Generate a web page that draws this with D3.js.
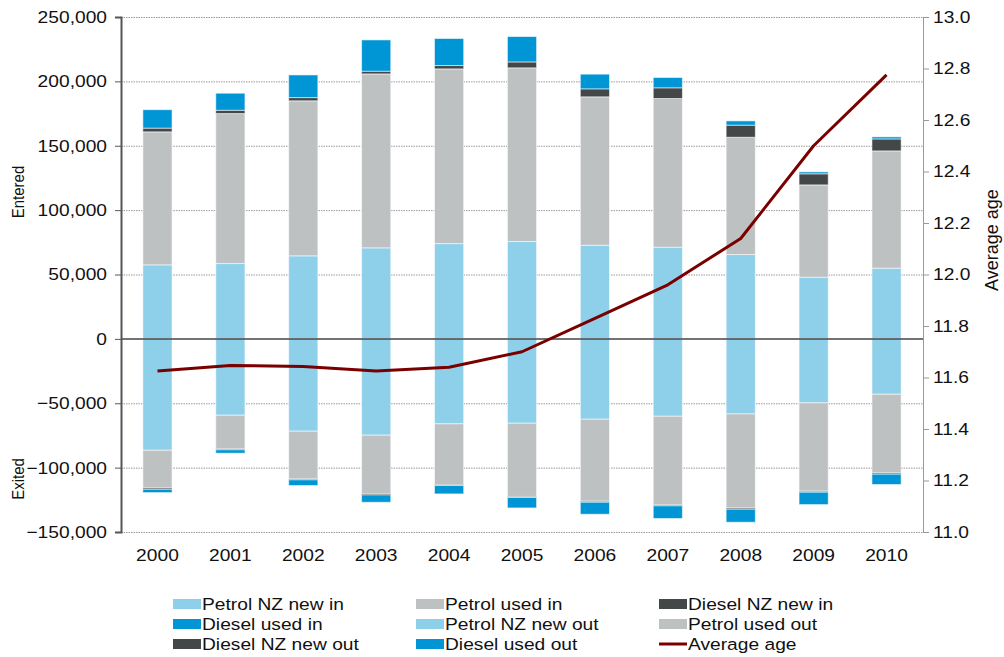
<!DOCTYPE html>
<html>
<head>
<meta charset="utf-8">
<script src="https://cdn.jsdelivr.net/npm/d3@7"></script>
<style>
  html, body { margin: 0; padding: 0; background: #fff; }
  svg { display: block; font-family: "Liberation Sans", Arial, sans-serif; }
</style>
</head>
<body>
<svg id="chart" width="1004" height="657"></svg>
<script>
// Vehicles entering and leaving the fleet, by fuel type and origin, with average fleet age
const years = ["2000", "2001", "2002", "2003", "2004", "2005", "2006", "2007", "2008", "2009", "2010"];

const petrolNzNewIn  = [57500, 58500, 64500, 70700, 74000, 75600, 72700, 71200, 65500, 47900, 54900];
const petrolUsedIn   = [103300, 116500, 120400, 135100, 135700, 134900, 115300, 115500, 91100, 71700, 91100];
const dieselNzNewIn  = [2900, 2600, 2500, 2100, 2600, 4600, 6200, 8300, 9400, 8600, 9300];
const dieselUsedIn   = [14300, 13200, 17600, 24300, 21000, 19700, 11400, 8000, 3300, 1500, 1600];

const petrolNzNewOut = [-86500, -59300, -71700, -74800, -66000, -65500, -62400, -60100, -58300, -49700, -43000];
const petrolUsedOut  = [-29200, -26100, -37000, -45300, -47100, -56900, -63700, -68800, -73000, -68600, -61100];
const dieselNzNewOut = [-1100, -800, -800, -1100, -800, -800, -800, -800, -1000, -800, -1000];
const dieselUsedOut  = [-2600, -2600, -4400, -5700, -6500, -8100, -9300, -9800, -10100, -9600, -8000];

const averageAge = [11.625, 11.647, 11.643, 11.625, 11.64, 11.70, 11.83, 11.96, 12.14, 12.50, 12.775];

const leftTicks  = [250000, 200000, 150000, 100000, 50000, 0, -50000, -100000, -150000];
const rightTicks = [13.0, 12.8, 12.6, 12.4, 12.2, 12.0, 11.8, 11.6, 11.4, 11.2, 11.0];

const seriesNames = ["Petrol NZ new in", "Petrol used in", "Diesel NZ new in", "Diesel used in",
                     "Petrol NZ new out", "Petrol used out", "Diesel NZ new out", "Diesel used out"];
const seriesValues = [petrolNzNewIn, petrolUsedIn, dieselNzNewIn, dieselUsedIn,
                      petrolNzNewOut, petrolUsedOut, dieselNzNewOut, dieselUsedOut];

const colorFor = {
  "Petrol NZ new in": "#8ecfea", "Petrol used in": "#bec1c2",
  "Diesel NZ new in": "#434748", "Diesel used in": "#0095d5",
  "Petrol NZ new out": "#8ecfea", "Petrol used out": "#bec1c2",
  "Diesel NZ new out": "#434748", "Diesel used out": "#0095d5"
};
const lineColor = "#7a0000";

// Text in this chart is drawn slightly wide
const SX = 1.13;
const FONT = 17;

const svg = d3.select("#chart");
const plot = { left: 121, right: 923, top: 17, bottom: 532 };

const x = d3.scaleBand().domain(years).range([plot.left, plot.right]).paddingInner(0.6).paddingOuter(0.3);
const y = d3.scaleLinear().domain([-150000, 250000]).range([plot.bottom, plot.top]);
const yAge = d3.scaleLinear().domain([11, 13]).range([plot.bottom, plot.top]);

// Rows for the stack
const rows = years.map((yr, i) => {
  const r = { year: yr };
  seriesNames.forEach((n, k) => { r[n] = seriesValues[k][i]; });
  return r;
});
const stacked = d3.stack().keys(seriesNames).offset(d3.stackOffsetDiverging)(rows);

// Gridlines
svg.append("g")
  .selectAll("line")
  .data(leftTicks.filter(t => t !== 0))
  .join("line")
  .attr("x1", plot.left).attr("x2", plot.right)
  .attr("y1", d => y(d) + 0.5).attr("y2", d => y(d) + 0.5)
  .attr("stroke", "#9a9a9a").attr("stroke-width", 1)
  .attr("stroke-dasharray", "1.5,1");

// Bars
svg.append("g")
  .selectAll("g")
  .data(stacked)
  .join("g")
  .attr("fill", d => colorFor[d.key])
  .selectAll("rect")
  .data(d => d)
  .join("rect")
  .attr("x", d => x(d.data.year))
  .attr("width", x.bandwidth())
  .attr("y", d => y(Math.max(d[0], d[1])))
  .attr("height", d => Math.abs(y(d[0]) - y(d[1])))
  .attr("stroke", "rgba(255,255,255,0.55)")
  .attr("stroke-width", 1);

// Zero line
svg.append("line")
  .attr("x1", plot.left).attr("x2", plot.right)
  .attr("y1", y(0)).attr("y2", y(0))
  .attr("stroke", "#444").attr("stroke-width", 1.5);

// Left axis
const leftAxis = svg.append("g")
  .attr("transform", `translate(${plot.left},0)`)
  .call(d3.axisLeft(y).tickValues(leftTicks).tickFormat(d3.format(",")).tickSize(6).tickPadding(8));
leftAxis.select(".domain").attr("stroke", "#555").attr("stroke-width", 2);
leftAxis.selectAll(".tick line").attr("stroke", "#555");
leftAxis.selectAll(".tick text")
  .attr("font-size", FONT).attr("fill", "#111")
  .attr("font-family", "Liberation Sans, Arial, sans-serif")
  .attr("x", -14 / SX)
  .attr("transform", `scale(${SX},1)`);

// Right axis
const rightAxis = svg.append("g")
  .attr("transform", `translate(${plot.right},0)`)
  .call(d3.axisRight(yAge).tickValues(rightTicks).tickFormat(d3.format(".1f")).tickSize(6).tickPadding(6));
rightAxis.select(".domain").attr("stroke", "#999").attr("stroke-width", 1);
rightAxis.selectAll(".tick line").attr("stroke", "#999");
rightAxis.selectAll(".tick text")
  .attr("font-size", FONT).attr("fill", "#111")
  .attr("font-family", "Liberation Sans, Arial, sans-serif")
  .attr("x", 10 / SX)
  .attr("transform", `scale(${SX},1)`);

// Year labels along the bottom
svg.append("g")
  .selectAll("text")
  .data(years)
  .join("text")
  .attr("transform", d => `translate(${x(d) + x.bandwidth() / 2},560.5) scale(${SX},1)`)
  .attr("text-anchor", "middle")
  .attr("font-size", FONT).attr("fill", "#111")
  .text(d => d);

// Average age line
const line = d3.line()
  .x((d, i) => x(years[i]) + x.bandwidth() / 2)
  .y(d => yAge(d));
svg.append("path")
  .datum(averageAge)
  .attr("d", line)
  .attr("fill", "none")
  .attr("stroke", lineColor)
  .attr("stroke-width", 3)
  .attr("stroke-linejoin", "round");

// Axis titles
svg.append("text")
  .attr("transform", `translate(24,192) scale(${SX},1) rotate(-90)`)
  .attr("text-anchor", "middle")
  .attr("font-size", 15).attr("fill", "#111")
  .text("Entered");
svg.append("text")
  .attr("transform", `translate(24,479) scale(${SX},1) rotate(-90)`)
  .attr("text-anchor", "middle")
  .attr("font-size", 15).attr("fill", "#111")
  .text("Exited");
svg.append("text")
  .attr("transform", `translate(998,240) rotate(-90)`)
  .attr("text-anchor", "middle")
  .attr("font-size", 18).attr("fill", "#111")
  .text("Average age");

// Legend: three columns, filled row by row
const legendItems = seriesNames.map(n => ({ name: n, type: "rect" }))
  .concat([{ name: "Average age", type: "line" }]);
const colX = [173, 416, 659];
const rowY = [604, 624, 644];
const legend = svg.append("g")
  .selectAll("g")
  .data(legendItems)
  .join("g")
  .attr("transform", (d, i) => `translate(${colX[i % 3]},${rowY[Math.floor(i / 3)]})`);
legend.filter(d => d.type === "rect")
  .append("rect")
  .attr("x", 0).attr("y", -5).attr("width", 28).attr("height", 10)
  .attr("fill", d => colorFor[d.name]);
legend.filter(d => d.type === "line")
  .append("line")
  .attr("x1", 0).attr("x2", 28).attr("y1", 0).attr("y2", 0)
  .attr("stroke", lineColor).attr("stroke-width", 3);
legend.append("text")
  .attr("transform", `translate(29,6) scale(${SX},1)`)
  .attr("font-size", FONT).attr("fill", "#111")
  .text(d => d.name);
</script>
</body>
</html>
